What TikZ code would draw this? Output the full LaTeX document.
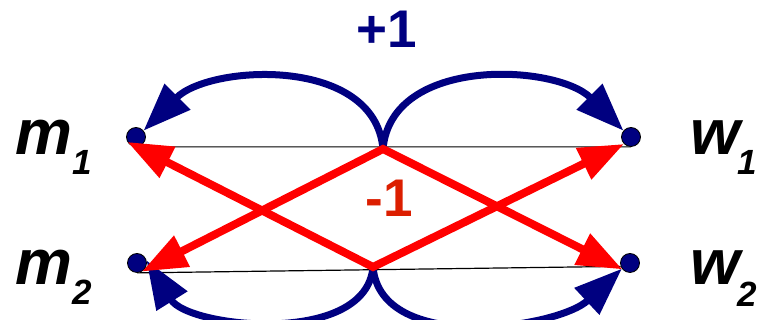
\documentclass[tikz,border=0pt]{standalone}
\usepackage{fontspec}
\setmainfont{Liberation Sans}
\usetikzlibrary{arrows.meta}
\definecolor{navyblue}{RGB}{0,0,128}
\definecolor{minusred}{RGB}{220,30,0}
\newcommand{\bigfont}{\fontsize{64}{64}\selectfont\bfseries\itshape}
\newcommand{\subfont}{\fontsize{35}{35}\selectfont\bfseries\itshape}

\begin{document}
\begin{tikzpicture}[x=1pt,y=1pt,
  dot/.style={circle,draw=black,line width=0.8pt,fill=navyblue,inner sep=0pt,minimum size=19pt},
  lbl/.style={anchor=base west,inner sep=0pt,font=\bigfont},
  gain/.style={-{Triangle[length=48pt,width=35pt]},navyblue,line width=7pt},
  loss/.style={{Triangle[length=45pt,width=33pt]}-{Triangle[length=45pt,width=33pt]},red,line width=8pt},
  sign/.style={anchor=base,inner sep=0pt,font=\fontsize{53}{53}\selectfont\bfseries}]
 \useasboundingbox (0,0) rectangle (764,320);
 \node[dot] (m1) at (136,183) {};\node[dot] (m2) at (137,57) {};
 \node[dot] (w1) at (631,183) {};\node[dot] (w2) at (630,57) {};
 \coordinate (T) at (383,171);\coordinate (B) at (373,53);
 \draw[line width=1.2pt] (m1.south)--(w1.south) (m2.south)--(w2.200);
 \draw[gain] (T) to[out=95,in=45] (m1.40);
 \draw[gain] (T) to[out=85,in=135] (w1.140);
 \draw[gain] (B) to[out=-95,in=-58,looseness=0.9] (m2.15);
 \draw[gain] (B) to[out=-85,in=-137,looseness=0.9] (w2.215);
 \draw[loss] (m2.300)--(T)--(w2.220);
 \draw[loss] (m1.210)--(B)--(w1.225);
 \node[lbl] (m1l) at (15,165) {m\raisebox{-20pt}{\subfont 1}};
 \node[lbl] (m2l) at (15,35) {m\raisebox{-20pt}{\subfont 2}};
 \node[lbl] (w1l) at (690,165) {w\kern-2pt\raisebox{-20pt}{\subfont 1}};
 \node[lbl] (w2l) at (690,35) {w\kern-2pt\raisebox{-22pt}{\subfont 2}};
 \node[sign,navyblue] (plus) at (387,272) {+1};
 \node[sign,minusred] (minus) at (389,103) {-1};
\end{tikzpicture}
\end{document}
